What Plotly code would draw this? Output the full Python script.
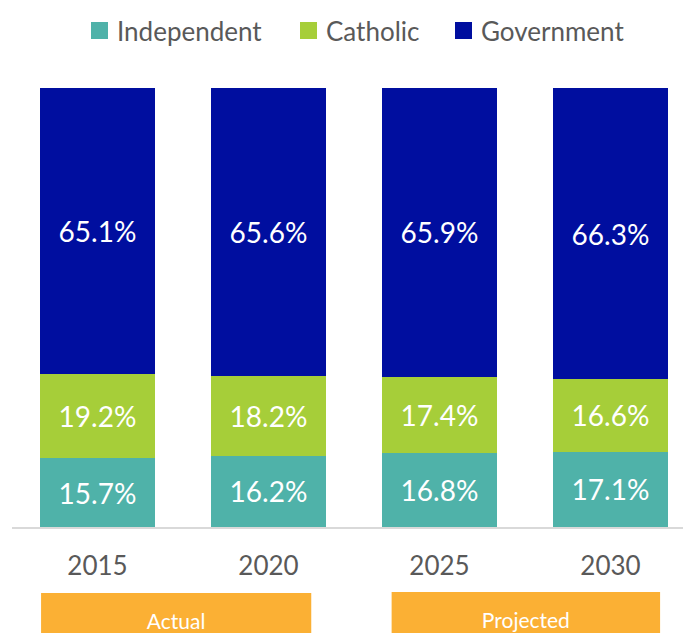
import plotly.graph_objects as go

years = ["2015", "2020", "2025", "2030"]
independent = [15.7, 16.2, 16.8, 17.1]
catholic = [19.2, 18.2, 17.4, 16.6]
government = [65.1, 65.6, 65.9, 66.3]

series_names = ["Independent", "Catholic", "Government"]
series_values = [independent, catholic, government]
series_colors = ["#4FB2A9", "#A6CE39", "#000E9F"]

FONT = "Lato"
GREY = "#595959"
W, H = 683, 633
M_L, M_R, M_T, M_B = 12, 0, 88, 106
PW, PH = W - M_L - M_R, H - M_T - M_B


def px_x(px):
    """pixel column -> paper x"""
    return (px - M_L) / PW


def px_y(py):
    """pixel row -> paper y"""
    return (H - M_B - py) / PH


fig = go.Figure()
for name, vals, color in zip(series_names, series_values, series_colors):
    fig.add_trace(go.Bar(
        name=name, x=years, y=vals, showlegend=False,
        marker=dict(color=color, line=dict(width=0)),
        texttemplate="%{y:.1f}%", textposition="inside",
        insidetextanchor="middle", textangle=0,
        textfont=dict(family=FONT, size=28, color="white"),
    ))

# legend row: square swatch + label
legend_swatch_left = [91, 300, 455]
for name, color, left in zip(series_names, series_colors, legend_swatch_left):
    fig.add_shape(type="rect", xref="paper", yref="paper",
                  x0=px_x(left), x1=px_x(left + 17), y0=px_y(39), y1=px_y(22),
                  fillcolor=color, line=dict(width=0))
    fig.add_annotation(xref="paper", yref="paper", x=px_x(left + 24), y=px_y(30.5),
                       xanchor="left", yanchor="middle", text=name, showarrow=False,
                       font=dict(family=FONT, size=26, color=GREY))

# period bands below the axis
periods = [("Actual", -0.33, 1.25, 593), ("Projected", 1.72, 3.29, 592)]
for label, x0, x1, top in periods:
    fig.add_shape(type="rect", xref="x", yref="paper", x0=x0, x1=x1,
                  y0=px_y(top + 54), y1=px_y(top), fillcolor="#FBB034",
                  line=dict(width=0), layer="above",
                  label=dict(text=label, textposition="middle center",
                             font=dict(family=FONT, size=21, color="white")))

fig.update_layout(
    barmode="stack",
    bargap=0.333,
    width=W, height=H,
    margin=dict(l=M_L, r=M_R, t=M_T, b=M_B),
    plot_bgcolor="white", paper_bgcolor="white",
    font=dict(family=FONT, color=GREY),
    showlegend=False,
    xaxis=dict(range=[-0.5, -0.5 + PW / 171], showline=True, linecolor="#D9D9D9",
               linewidth=2, showgrid=False, ticks="", ticklabelstandoff=15,
               tickfont=dict(family=FONT, size=26, color=GREY)),
    yaxis=dict(range=[0, 100], visible=False, showgrid=False),
)

fig.write_html("out.html")
